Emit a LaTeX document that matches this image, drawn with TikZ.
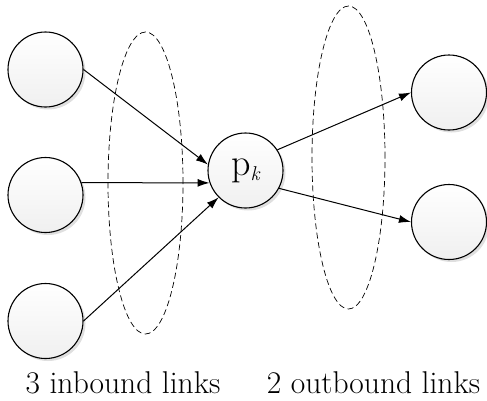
\documentclass[tikz,border=0pt]{standalone}
\usetikzlibrary{shapes.geometric, shadows, arrows.meta}

\begin{document}
\begin{tikzpicture}[x=1pt, y=-1pt,
  peer/.style={circle, draw, line width=1.1pt, minimum size=75pt, inner sep=0pt,
    top color=white, bottom color=gray!12,
    drop shadow={opacity=0.25, shadow xshift=2.5pt, shadow yshift=-2.5pt}},
  group/.style={ellipse, draw, dashed, dash pattern=on 6pt off 3.5pt, line width=0.7pt},
  link/.style={-{Latex[length=12pt, width=8pt]}, line width=1pt},
  caption/.style={anchor=base, font=\fontsize{31.5}{36}\selectfont}]

  \useasboundingbox (0,0) rectangle (487,400);

  \node[group, minimum width=75pt, minimum height=302pt] (inb) at (145.5,183) {};
  \node[group, minimum width=73pt, minimum height=303pt] (outb) at (348.5,157.5) {};

  \node[peer] (in1) at (45.5,69.5) {};
  \node[peer] (in2) at (45.5,195) {};
  \node[peer] (in3) at (45.5,321) {};
  \node[peer] (pk) at (245.5,170.5)
    {\fontsize{38}{38}\selectfont p\raisebox{-5pt}{\fontsize{20}{20}\selectfont\itshape k}};
  \node[peer] (out1) at (449,92.5) {};
  \node[peer] (out2) at (449,222) {};

  \draw[link] (in1.east) -- (pk.171);
  \draw[link] (in2.19) -- (pk.199);
  \draw[link] (in3.east) -- (pk.225);
  \draw[link] (pk.33) -- (out1.west);
  \draw[link] (pk.-28) -- (out2.west);

  \node[caption] (inlabel) at (123,393) {3 inbound links};
  \node[caption] (outlabel) at (373.5,393) {2 outbound links};
\end{tikzpicture}
\end{document}
